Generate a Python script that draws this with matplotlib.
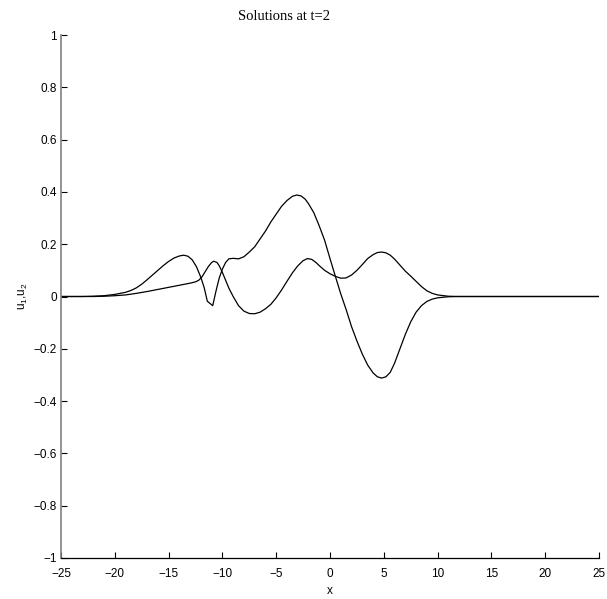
import matplotlib
matplotlib.use('Agg')
import matplotlib.pyplot as plt
from matplotlib.ticker import FuncFormatter

# curve u1 (large hump near x=-3, trough near x=5)
x_u1 = [-25, -23, -22, -21, -20, -19, -18.5, -18, -17.5, -17, -16.5, -16, -15.5, -15,
        -14.5, -14, -13.6, -13.2, -12.8, -12.4, -12, -11.7, -11.4, -11.2, -10.9, -10.6,
        -10.3, -10, -9.7, -9.4, -9, -8.5, -8, -7.5, -7, -6.5, -6, -5.5, -5, -4.5, -4,
        -3.5, -3.1, -2.7, -2.3, -2, -1.5, -1, -0.5, 0, 0.5, 1, 1.5, 2, 2.5, 3, 3.5, 4,
        4.4, 4.8, 5.2, 5.6, 6, 6.5, 7, 7.5, 8, 8.5, 9, 9.5, 10, 11, 12, 25]
u1 = [0, 0, 0.001, 0.003, 0.008, 0.016, 0.023, 0.033, 0.047, 0.064, 0.082, 0.100, 0.118,
      0.134, 0.147, 0.155, 0.158, 0.154, 0.140, 0.113, 0.073, 0.035, -0.018, -0.025,
      -0.035, 0.02, 0.07, 0.105, 0.13, 0.144, 0.146, 0.144, 0.152, 0.170, 0.19, 0.22,
      0.25, 0.285, 0.315, 0.345, 0.367, 0.383, 0.388, 0.385, 0.372, 0.355, 0.32, 0.27,
      0.215, 0.145, 0.077, 0.01, -0.05, -0.115, -0.17, -0.22, -0.262, -0.292, -0.307,
      -0.312, -0.307, -0.29, -0.255, -0.2, -0.145, -0.097, -0.06, -0.035, -0.019, -0.01,
      -0.005, -0.001, 0, 0]

# curve u2 (smaller oscillating one)
x_u2 = [-25, -22, -21, -20, -19, -18, -17, -16, -15, -14, -13, -12.5, -12.2, -11.9,
        -11.6, -11.3, -11, -10.8, -10.5, -10.3, -10, -9.7, -9.4, -9, -8.5, -8, -7.5,
        -7, -6.5, -6, -5.5, -5, -4.5, -4, -3.5, -3, -2.5, -2.1, -1.7, -1.3, -1, -0.5,
        0, 0.5, 1, 1.5, 2, 2.5, 3, 3.5, 4, 4.4, 4.8, 5.2, 5.6, 6, 6.5, 7, 7.5, 8, 8.5,
        9, 9.5, 10, 11, 12, 25]
u2 = [0, 0, 0.001, 0.003, 0.006, 0.012, 0.019, 0.027, 0.035, 0.043, 0.051, 0.056, 0.062,
      0.075, 0.095, 0.115, 0.13, 0.135, 0.13, 0.118, 0.092, 0.062, 0.032, 0.0, -0.035,
      -0.056, -0.065, -0.066, -0.060, -0.047, -0.03, -0.005, 0.025, 0.058, 0.09, 0.117,
      0.137, 0.145, 0.142, 0.13, 0.118, 0.1, 0.087, 0.077, 0.070, 0.071, 0.082, 0.1,
      0.122, 0.145, 0.16, 0.168, 0.170, 0.167, 0.158, 0.143, 0.12, 0.097, 0.078, 0.058,
      0.038, 0.022, 0.012, 0.006, 0.001, 0, 0]

x_ticks = [-25, -20, -15, -10, -5, 0, 5, 10, 15, 20, 25]
y_ticks = [-1, -0.8, -0.6, -0.4, -0.2, 0, 0.2, 0.4, 0.6, 0.8, 1]

plt.rcParams['font.family'] = 'Liberation Sans'
plt.rcParams['mathtext.fontset'] = 'custom'
plt.rcParams['mathtext.rm'] = 'Liberation Sans'
plt.rcParams['mathtext.it'] = 'Liberation Sans'

fig = plt.figure(figsize=(6.07, 5.99), dpi=100)
ax = fig.add_axes([61/607, 1 - 558/599, 538/607, 523/599])

ax.plot(x_u1, u1, color='black', linewidth=0.9)
ax.plot(x_u2, u2, color='black', linewidth=0.9)

ax.set_xlim(-25, 25)
ax.set_ylim(-1, 1)
ax.set_xticks(x_ticks)
ax.set_yticks(y_ticks)
fmt = FuncFormatter(lambda v, p: ('%g' % round(v, 2)).replace('-', '\u2212'))
ax.xaxis.set_major_formatter(fmt)
ax.yaxis.set_major_formatter(fmt)

ax.spines['top'].set_visible(False)
ax.spines['right'].set_visible(False)
ax.spines['left'].set_color('#808080')
ax.spines['left'].set_linewidth(1.2)
ax.spines['bottom'].set_linewidth(0.9)
ax.tick_params(direction='in', length=4, width=0.8, labelsize=8.5, colors='black')
ax.tick_params(axis='x', pad=7)
ax.tick_params(axis='y', pad=3)

ax.set_xlabel('x', fontsize=8.5, labelpad=4)
ax.set_ylabel('u$_1$,u$_2$', fontsize=8.5, labelpad=2.5)
ax.set_title('Solutions at t=2', fontsize=10.5, family='Liberation Serif',
             x=(284 - 61) / 538, pad=11)

fig.savefig('out.png', dpi=100)
